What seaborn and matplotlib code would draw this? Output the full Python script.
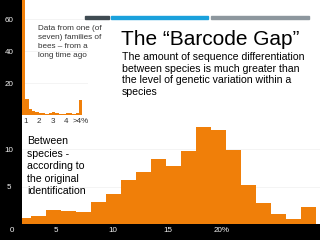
import numpy as np
import matplotlib
matplotlib.use("Agg")
import matplotlib.pyplot as plt
import seaborn as sns

# main histogram: between species (bar heights)
main_bins = [f"b{i}" for i in range(20)]
main_counts = [0.84, 1.07, 1.87, 1.77, 1.56, 2.93, 4.0, 5.87, 6.93, 8.67,
               7.73, 9.73, 12.97, 12.53, 9.87, 5.2, 2.76, 1.33, 0.71, 2.31]
main_tick_pos = [2.17, 5.97, 9.63, 13.23]
main_tick_lab = ["5", "10", "15", "20%"]
main_yticks = [5, 10]

# inset histogram: within species, bins of 0.25% plus ">4%"
inset_bins = [f"i{i}" for i in range(18)]
inset_counts = [80, 10, 4, 2.2, 2, 1, 1, 0.5, 1.5, 2, 1, 0.5, 0.5, 1, 1, 0.5, 1, 9.4]
inset_tick_pos = [0.7, 4.6, 8.75, 12.6, 16.9]
inset_tick_lab = ["1", "2", "3", "4", ">4%"]
inset_yticks = [20, 40, 60]

orange = "#F07F09"
W, H = 320, 240
FONT = "Liberation Sans"

sns.set_style("white")
plt.rcParams["font.family"] = [FONT, "DejaVu Sans"]

fig = plt.figure(figsize=(3.2, 2.4), dpi=100, facecolor="black")


def box(x0, y0, x1, y1):
    # pixel box (top-left origin) -> figure fraction rect
    return [x0 / W, 1 - y1 / H, (x1 - x0) / W, (y1 - y0) / H]


# main plot
ax = fig.add_axes(box(22, 0, 320, 224))
ax.set_facecolor("white")
sns.barplot(x=main_bins, y=main_counts, color=orange, width=1, saturation=1,
            edgecolor="none", ax=ax)
ax.set_xlim(-0.1, 19.77)
ax.set_ylim(0, 224 / 7.5)
ax.set_yticks(main_yticks)
ax.set_yticklabels([str(v) for v in main_yticks], color="#f4f4f4",
                   fontsize=5.8, ha="center")
ax.set_xticks(main_tick_pos)
ax.set_xticklabels(main_tick_lab, color="#f4f4f4", fontsize=5.8)
ax.tick_params(axis="y", length=0, pad=9.4)
ax.tick_params(axis="x", length=0, pad=2.5)
ax.grid(axis="y", color="#f2f2f2", lw=0.6)
ax.set_axisbelow(True)
for s in ax.spines.values():
    s.set_visible(False)
ax.set_xlabel("")
ax.set_ylabel("")

# inset plot
ins = fig.add_axes(box(22, 0, 88.3, 115))
ins.patch.set_alpha(0)
sns.barplot(x=inset_bins, y=inset_counts, color=orange, width=1, saturation=1,
            edgecolor="none", ax=ins)
ins.set_xlim(-0.5, 19.3)
ins.set_ylim(0, 115 / 1.6)
ins.set_yticks(inset_yticks)
ins.set_yticklabels([str(v) for v in inset_yticks], color="#f4f4f4",
                    fontsize=5.8, ha="center")
ins.set_xticks(inset_tick_pos)
ins.set_xticklabels(inset_tick_lab, color="#333333", fontsize=5.8)
ins.tick_params(axis="y", length=0, pad=9.4)
ins.tick_params(axis="x", length=0, pad=2.5)
ins.grid(axis="y", color="#f2f2f2", lw=0.6)
ins.set_axisbelow(True)
for s in ins.spines.values():
    s.set_visible(False)
ins.set_xlabel("")
ins.set_ylabel("")

fig.text(12 / W, 1 - 230 / H, "0", color="#f4f4f4", fontsize=5.8,
         ha="center", va="center")

# decorative bars at the top
for x0, x1, c in [(85, 109, "#3f4b52"), (111, 208, "#1aa1dc"), (211, 309, "#8d979e")]:
    fig.patches.append(plt.Rectangle((x0 / W, 1 - 18.5 / H), (x1 - x0) / W, 3 / H,
                                     transform=fig.transFigure, color=c, zorder=5))

fig.text(121 / W, 1 - 45 / H, "The \u201cBarcode Gap\u201d", fontsize=15,
         color="black", ha="left", va="baseline")
fig.text(121.5 / W, 1 - 52.5 / H,
         "The amount of sequence differentiation\nbetween species is much greater than\n"
         "the level of genetic variation within a\nspecies",
         fontsize=7.6, color="black", ha="left", va="top", linespacing=1.18)
fig.text(37.5 / W, 1 - 24.5 / H,
         "Data from one (of\nseven) families of\nbees \u2013 from a\nlong time ago",
         fontsize=5.9, color="#333333", ha="left", va="top", linespacing=1.42)
fig.text(27 / W, 1 - 136.5 / H,
         "Between\nspecies -\naccording to\nthe original\nidentification",
         fontsize=7.6, color="black", ha="left", va="top", linespacing=1.3)

fig.savefig("out.png", dpi=100, facecolor="black")
